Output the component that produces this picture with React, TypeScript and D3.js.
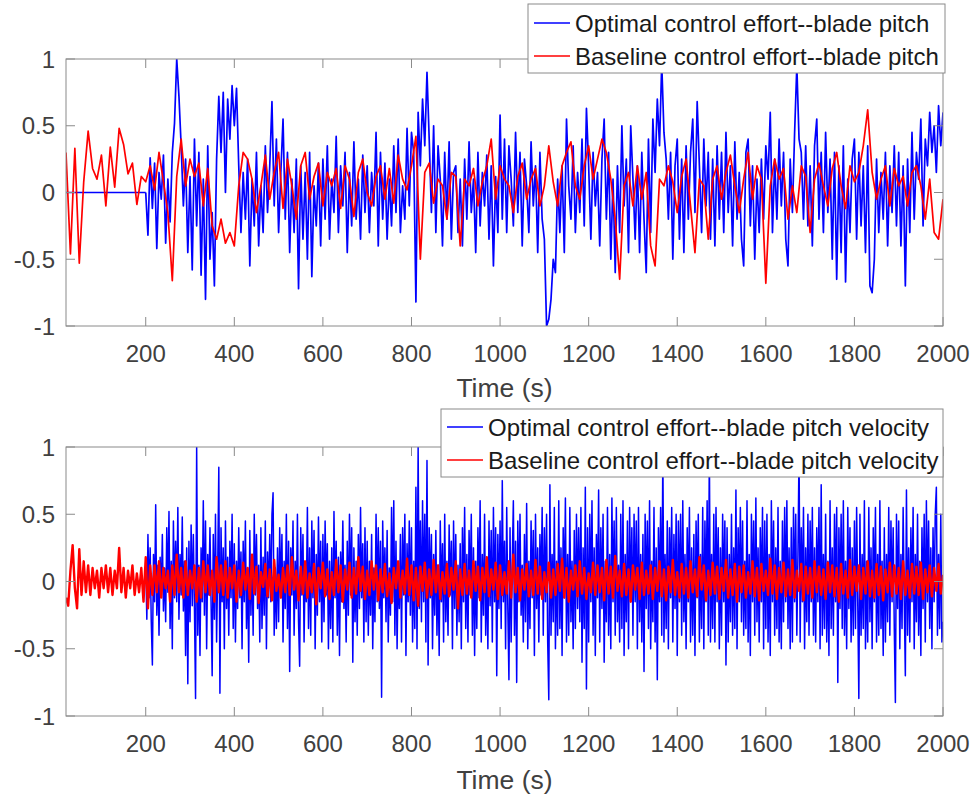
import React from 'react';
import * as d3 from 'd3';

// ---------- axis definitions ----------
const xDomain = [20, 2000];
const xTicks = [200, 400, 600, 800, 1000, 1200, 1400, 1600, 1800, 2000];
const yTicks = [-1, -0.5, 0, 0.5, 1];
const yTickLabels = ['-1', '-0.5', '0', '0.5', '1'];
const xLabel = 'Time (s)';

// ---------- top panel: blade pitch ----------
const pitchLegend = ['Optimal control effort--blade pitch', 'Baseline control effort--blade pitch'];

// optimal: zero until 200 s
const pitchOptFlatTimes = [20, 200];
const pitchOptFlatValues = [0, 0];

// optimal, t = 200..2000 every 5 s
const pitchOptStart = 200;
const pitchOptStep = 5;
const pitchOpt = [
  0.00, -0.32, 0.26, -0.12, 0.22, -0.42, 0.15, -0.05, 0.28, -0.38, 0.10, -0.22, 0.30, 0.52, 1.00, 0.72, 0.35, -0.10, 0.25, -0.45,
  0.12, -0.58, 0.40, -0.25, 0.30, -0.62, 0.10, -0.80, 0.35, -0.50, -0.15, -0.70, 0.25, 0.72, 0.30, 0.75, 0.00, 0.70, 0.40, 0.80,
  0.50, 0.78, 0.20, -0.30, 0.15, -0.20, 0.25, -0.55, 0.10, -0.25, 0.30, -0.40, 0.05, -0.30, 0.35, -0.15, 0.20, 0.68, -0.10, 0.40,
  -0.30, 0.15, 0.55, -0.20, 0.30, -0.45, 0.10, -0.30, 0.25, -0.72, 0.20, -0.35, 0.15, -0.50, 0.30, -0.63, 0.05, -0.25, 0.22, -0.40,
  0.25, -0.20, 0.35, -0.35, 0.10, -0.15, 0.42, -0.30, 0.20, -0.10, 0.30, -0.45, 0.15, -0.25, 0.38, -0.20, 0.10, -0.35, 0.28, -0.15,
  0.20, -0.30, 0.15, -0.10, 0.45, -0.40, 0.30, -0.20, 0.22, -0.35, 0.10, -0.25, 0.35, -0.15, 0.40, -0.30, 0.05, -0.20, 0.48, -0.10,
  0.45, 0.30, -0.82, 0.60, 0.20, 0.70, 0.35, 0.90, 0.40, -0.15, 0.50, -0.30, 0.35, 0.10, -0.40, 0.30, -0.20, 0.38, -0.35, 0.15,
  0.20, -0.30, 0.10, -0.40, 0.25, -0.20, 0.38, -0.15, 0.10, -0.45, 0.30, -0.25, 0.15, -0.10, 0.28, -0.35, 0.20, -0.55, 0.12, -0.30,
  0.58, -0.20, 0.40, -0.30, 0.35, 0.10, -0.25, 0.45, -0.15, 0.30, -0.40, 0.25, 0.05, -0.30, 0.38, -0.10, 0.20, -0.45, 0.30, -0.20,
  -0.35, -1.00, -0.95, -0.80, -0.50, -0.60, 0.10, -0.30, 0.20, -0.45, 0.55, 0.05, -0.20, 0.35, -0.30, 0.15, -0.15, 0.40, -0.25, 0.63,
  0.20, -0.35, 0.30, -0.10, 0.15, -0.40, 0.25, 0.55, -0.20, 0.30, -0.50, 0.10, -0.60, 0.20, -0.30, 0.50, -0.10, 0.25, -0.45, 0.50,
  0.10, -0.35, 0.20, -0.45, 0.30, -0.20, -0.60, 0.40, -0.30, 0.55, 0.15, 0.70, 0.35, 0.97, 0.45, 0.25, -0.20, 0.30, -0.50, 0.20,
  0.40, -0.35, 0.25, -0.45, 0.35, -0.20, 0.30, 0.55, -0.15, 0.68, 0.20, -0.30, 0.40, -0.10, 0.30, -0.35, 0.25, -0.40, 0.35, -0.20,
  0.30, -0.30, 0.45, -0.15, 0.20, -0.40, 0.38, -0.20, 0.15, -0.35, -0.55, 0.30, 0.40, -0.25, 0.20, -0.50, 0.10, -0.30, 0.25, -0.20,
  0.35, 0.10, 0.60, -0.30, 0.25, -0.20, 0.40, -0.10, 0.30, -0.35, -0.55, 0.25, -0.15, 0.45, 0.95, 0.40, 0.30, -0.20, 0.35, -0.25,
  0.20, -0.40, 0.35, 0.55, -0.20, 0.30, -0.30, 0.45, -0.15, 0.25, -0.50, 0.30, -0.65, 0.20, -0.45, 0.35, -0.67, 0.10, -0.30, 0.25,
  0.40, -0.35, 0.30, -0.25, 0.20, -0.45, 0.35, -0.70, -0.75, -0.50, 0.25, -0.30, 0.15, -0.20, 0.30, -0.40, 0.20, -0.15, 0.35, -0.25,
  0.30, -0.40, 0.20, -0.70, 0.25, -0.30, 0.45, -0.20, 0.30, 0.10, 0.55, -0.25, 0.40, 0.20, 0.60, 0.30, 0.50, 0.15, 0.65, 0.35,
  0.60,
];

// baseline, t = 20..2000 every 10 s
const pitchBaseStart = 20;
const pitchBaseStep = 10;
const pitchBase = [
  0.30, -0.46, 0.33, -0.53, 0.08, 0.46, 0.18, 0.10, 0.28, -0.10,
  0.34, 0.04, 0.48, 0.36, 0.14, 0.22, -0.09, 0.12, 0.08, 0.20,
  0.02, 0.30, 0.08, -0.15, -0.66, 0.12, 0.40, 0.05, 0.25, 0.12,
  0.22, -0.10, 0.18, -0.25, -0.35, -0.20, -0.38, -0.30, -0.40, 0.05,
  0.30, 0.25, 0.10, -0.15, 0.05, 0.28, -0.05, 0.15, 0.30, -0.12,
  0.25, 0.05, -0.20, 0.20, 0.30, -0.05, 0.12, 0.22, -0.10, 0.15,
  0.05, 0.18, -0.12, 0.20, 0.10, -0.18, 0.15, 0.25, 0.00, -0.10,
  0.12, 0.20, -0.05, 0.18, -0.08, 0.28, 0.10, 0.02, 0.20, 0.42,
  -0.50, 0.15, 0.22, -0.08, 0.10, 0.05, -0.20, 0.15, 0.12, -0.40,
  0.10, 0.05, 0.18, -0.10, 0.08, 0.20, 0.40, -0.05, 0.20, 0.10,
  0.05, -0.15, 0.12, 0.22, -0.05, 0.10, 0.18, -0.10, 0.05, 0.35,
  0.08, -0.10, 0.20, 0.30, 0.38, 0.05, -0.05, 0.20, 0.35, 0.10,
  0.25, 0.40, 0.30, 0.10, -0.20, -0.65, 0.05, 0.15, -0.10, 0.20,
  -0.05, 0.15, -0.40, -0.55, 0.10, 0.05, 0.20, 0.08, -0.15, 0.12,
  0.25, -0.10, -0.45, 0.10, 0.05, -0.35, 0.10, 0.20, -0.05, 0.15,
  0.28, 0.05, -0.15, 0.10, 0.30, -0.05, 0.20, 0.10, -0.68, 0.05,
  0.25, 0.10, 0.18, -0.20, 0.05, -0.15, 0.20, 0.12, -0.30, 0.10,
  0.22, 0.05, -0.10, 0.18, 0.30, 0.05, -0.12, 0.20, 0.08, 0.15,
  0.35, 0.62, 0.15, -0.05, 0.10, 0.20, -0.10, 0.18, 0.05, 0.12,
  -0.10, 0.15, 0.20, 0.05, -0.20, 0.10, -0.30, -0.35, -0.05,
];

// ---------- bottom panel: blade pitch velocity ----------
const velLegend = ['Optimal control effort--blade pitch velocity', 'Baseline control effort--blade pitch velocity'];

// optimal, t = 200..2000 every 2.5 s
const velOptStart = 200;
const velOptStep = 2.5;
const velOpt = [
  0.15, -0.28, 0.35, -0.12, 0.25, -0.30, -0.62, 0.20, -0.15, 0.57,
  -0.25, 0.12, -0.40, 0.18, -0.10, 0.35, -0.22, 0.10, -0.30, 0.40,
  -0.08, 0.52, -0.35, 0.15, -0.50, 0.45, -0.12, 0.30, -0.15, 0.55,
  -0.28, 0.20, -0.10, 0.48, -0.22, 0.15, -0.55, 0.25, -0.76, 0.30,
  -0.30, 0.42, -0.18, 0.35, -0.20, -0.87, 1.00, -0.40, 0.12, -0.55,
  0.25, -0.15, 0.60, -0.25, 0.45, -0.50, 0.20, -0.10, 0.40, -0.15,
  -0.70, 0.35, -0.28, 0.50, -0.45, 0.10, 0.85, -0.83, 0.40, -0.15,
  0.25, -0.50, 0.45, -0.20, 0.18, -0.40, 0.30, -0.12, 0.50, -0.35,
  0.28, -0.45, 0.15, -0.20, 0.40, -0.12, 0.22, -0.50, 0.30, -0.15,
  0.45, -0.35, 0.10, -0.60, 0.38, -0.25, 0.20, -0.40, 0.50, -0.10,
  0.35, -0.20, 0.12, -0.45, 0.40, -0.35, 0.18, -0.25, 0.45, -0.50,
  0.22, -0.12, 0.35, -0.15, 0.50, 0.66, -0.40, 0.10, -0.35, 0.25,
  -0.30, 0.40, -0.12, 0.35, -0.45, 0.15, -0.20, 0.50, -0.35, 0.30,
  -0.67, 0.25, -0.10, 0.45, -0.40, 0.15, -0.20, 0.50, -0.30, -0.63,
  0.40, -0.10, 0.35, -0.45, 0.12, -0.15, 0.55, -0.35, 0.25, -0.40,
  0.45, -0.12, 0.38, -0.50, 0.20, -0.25, 0.48, -0.15, 0.30, -0.45,
  0.35, -0.30, 0.45, -0.10, 0.28, -0.50, 0.15, -0.35, 0.25, -0.45,
  0.52, -0.12, 0.30, -0.40, 0.18, -0.55, 0.22, -0.15, 0.45, -0.20,
  0.12, -0.45, 0.30, -0.25, 0.50, -0.10, 0.40, -0.60, 0.25, -0.30,
  0.15, -0.40, 0.35, -0.20, 0.55, -0.12, 0.28, -0.45, 0.40, -0.30,
  0.30, -0.40, 0.15, -0.25, 0.35, -0.50, 0.10, -0.30, 0.50, -0.15,
  0.40, -0.20, 0.30, -0.86, 0.45, -0.12, 0.25, -0.30, 0.38, -0.45,
  0.10, -0.25, 0.55, -0.15, 0.60, -0.40, 0.30, -0.50, 0.12, -0.20,
  0.35, -0.45, 0.40, -0.10, 0.50, -0.55, 0.28, -0.15, 0.45, -0.25,
  0.40, -0.45, 0.15, -0.35, 0.70, -0.50, 1.00, -0.20, 0.45, -0.30,
  0.60, -0.15, 0.50, -0.45, 0.90, -0.62, 0.40, -0.12, 0.35, -0.50,
  0.20, -0.25, 0.38, -0.40, 0.12, -0.55, 0.45, -0.15, 0.28, -0.45,
  0.50, -0.30, 0.15, -0.40, 0.42, -0.10, 0.30, -0.50, 0.45, -0.20,
  0.35, -0.40, 0.12, -0.30, 0.28, -0.50, 0.40, -0.15, 0.55, -0.35,
  0.20, -0.45, 0.38, -0.10, 0.50, -0.40, 0.25, -0.55, 0.15, -0.35,
  0.40, -0.12, 0.60, -0.45, 0.20, -0.25, 0.50, -0.40, 0.10, -0.50,
  0.45, -0.18, 0.38, -0.45, 0.55, -0.15, 0.40, -0.70, 0.35, -0.20,
  0.45, -0.35, 0.75, -0.15, 0.30, -0.50, 0.55, -0.20, -0.73, 0.40,
  -0.45, 0.15, 0.60, -0.40, 0.30, -0.75, 0.45, -0.15, 0.50, -0.25,
  0.12, -0.45, 0.35, -0.30, 0.58, -0.50, 0.15, -0.35, 0.45, -0.12,
  0.38, -0.55, 0.50, -0.20, 0.25, -0.45, 0.35, -0.10, 0.55, -0.40,
  0.40, -0.15, 0.50, -0.45, -0.88, 0.72, -0.40, 0.20, -0.30, 0.55,
  -0.50, 0.15, -0.40, 0.60, -0.35, 0.25, -0.55, 0.40, -0.12, 0.62,
  -0.45, 0.20, -0.40, 0.55, -0.30, 0.15, -0.50, 0.38, -0.35, 0.50,
  -0.20, 0.40, -0.30, 0.55, -0.60, 0.25, -0.35, 0.70, -0.80, 0.40,
  -0.45, 0.50, -0.15, 0.60, -0.40, 0.25, -0.55, 0.35, -0.12, 0.68,
  -0.45, 0.40, -0.20, 0.50, -0.60, 0.15, -0.30, 0.55, -0.40, 0.20,
  -0.50, 0.62, -0.15, 0.45, -0.40, 0.55, -0.30, 0.12, -0.45, 0.50,
  -0.35, 0.60, -0.55, 0.20, -0.30, 0.45, -0.50, 0.55, -0.15, 0.40,
  -0.40, 0.50, -0.15, 0.45, -0.50, 0.55, -0.30, 0.20, -0.45, 0.35,
  -0.67, 0.50, -0.20, 0.45, -0.35, 0.60, -0.50, 0.15, -0.30, 0.55,
  -0.45, 0.25, -0.73, 0.40, -0.15, 0.55, -0.40, 0.98, -0.45, 0.20,
  -0.35, 0.45, -0.50, 0.40, -0.12, 0.55, -0.45, 0.35, -0.20, 0.50,
  -0.55, 0.45, -0.15, 0.50, -0.40, 0.60, -0.30, 0.20, -0.50, 0.40,
  -0.15, 0.55, -0.45, 0.25, -0.40, 0.35, -0.55, 0.45, -0.12, 0.50,
  -0.45, 0.20, -0.35, 0.55, -0.50, 0.45, -0.15, 0.60, -0.40, 0.97,
  -0.45, 0.20, -0.35, 0.50, -0.45, 0.55, -0.15, 0.40, -0.50, 0.25,
  -0.40, 0.50, -0.15, 0.45, -0.62, 0.40, -0.45, 0.20, -0.30, 0.50,
  -0.40, 0.25, -0.35, 0.68, -0.50, 0.40, -0.15, 0.55, -0.30, 0.45,
  -0.40, 0.15, -0.35, 0.60, -0.45, 0.20, -0.55, 0.50, -0.15, 0.45,
  -0.40, 0.62, -0.30, 0.25, -0.45, 0.40, -0.15, 0.55, -0.50, 0.45,
  -0.35, 0.50, -0.45, 0.20, -0.55, 0.60, -0.15, 0.45, -0.40, 0.25,
  -0.35, 0.55, -0.45, 0.15, -0.50, 0.45, -0.30, 0.55, -0.15, 0.60,
  -0.35, 0.25, -0.50, 0.40, -0.45, 0.55, -0.15, 0.50, -0.40, 0.20,
  0.98, -0.45, 0.40, -0.15, 0.55, -0.50, 0.25, -0.30, 0.50, -0.40,
  0.45, -0.15, 0.55, -0.40, 0.25, -0.45, 0.40, -0.15, 0.55, -0.50,
  0.72, -0.40, 0.20, -0.35, 0.50, -0.45, 0.15, -0.55, 0.60, -0.35,
  0.25, -0.40, 0.50, -0.15, 0.55, -0.75, 0.40, -0.20, 0.50, -0.35,
  0.60, -0.40, 0.15, -0.50, 0.55, -0.20, 0.40, -0.45, 0.25, -0.40,
  0.45, -0.35, 0.55, -0.15, -0.87, 0.50, -0.40, 0.20, -0.35, 0.60,
  -0.50, 0.15, -0.45, 0.55, -0.30, 0.25, -0.50, 0.40, -0.15, 0.55,
  -0.45, 0.20, -0.40, 0.60, -0.35, 0.15, -0.55, 0.40, -0.45, 0.20,
  -0.30, 0.55, -0.40, 0.45, -0.15, 0.40, -0.35, -0.90, 0.50, -0.20,
  0.45, -0.50, 0.20, -0.35, 0.55, -0.15, -0.70, 0.68, -0.40, 0.25,
  -0.45, 0.40, -0.15, 0.55, -0.50, 0.20, -0.30, 0.50, -0.40, 0.15,
  -0.55, 0.40, -0.20, 0.50, -0.45, 0.60, -0.15, 0.45, -0.35, 0.25,
  -0.50, 0.40, -0.15, 0.50, 0.70, -0.40, 0.20, -0.35, 0.50, -0.45,
  -0.30,
];

// baseline, t = 20..2000 every 5 s
const velBaseStart = 20;
const velBaseStep = 5;
const velBase = [
  -0.12, -0.18, 0.08, 0.27, -0.05, -0.20, 0.24, -0.10, 0.15, -0.08, 0.12, -0.10, 0.10, -0.05, 0.08, -0.12, 0.10, -0.05, 0.12, -0.08,
  0.10, -0.10, 0.08, -0.05, 0.25, -0.08, 0.10, -0.12, 0.08, -0.05, 0.12, -0.10, 0.06, -0.08, 0.10, -0.15, 0.18, -0.20, 0.12, -0.10,
  0.12, -0.08, 0.15, -0.12, 0.10, -0.05, 0.08, -0.15, 0.12, -0.10, 0.20, -0.08, 0.10, -0.12, 0.15, -0.10, 0.08, -0.05, 0.12, -0.15,
  0.10, -0.12, 0.15, -0.08, 0.12, -0.10, 0.08, -0.15, 0.18, -0.08, 0.12, -0.10, 0.15, -0.12, 0.10, -0.05, 0.12, -0.15, 0.08, -0.10,
  0.14, -0.06, 0.10, -0.13, 0.20, -0.09, 0.11, -0.16, 0.07, -0.04, 0.13, -0.11, 0.09, -0.14, 0.16, -0.07, 0.05, -0.12, 0.10, -0.08,
  0.12, -0.10, 0.18, -0.06, 0.08, -0.14, 0.11, -0.09, 0.15, -0.12, 0.06, -0.08, 0.13, -0.17, 0.10, -0.05, 0.14, -0.11, 0.09, -0.13,
  0.07, -0.10, 0.16, -0.08, 0.12, -0.15, 0.09, -0.06, 0.14, -0.12, 0.10, -0.09, 0.18, -0.07, 0.11, -0.13, 0.08, -0.10, 0.15, -0.06,
  0.12, -0.14, 0.09, -0.08, 0.13, -0.11, 0.06, -0.16, 0.10, -0.05, 0.15, -0.12, 0.08, -0.09, 0.17, -0.10, 0.12, -0.14, 0.10, -0.18,
  0.11, -0.07, 0.14, -0.12, 0.09, -0.10, 0.16, -0.08, 0.12, -0.13, 0.07, -0.09, 0.13, -0.11, 0.10, -0.06, 0.15, -0.20, 0.09, -0.10,
  0.13, -0.09, 0.08, -0.12, 0.15, -0.07, 0.11, -0.14, 0.10, -0.08, 0.18, -0.11, 0.09, -0.06, 0.14, -0.13, 0.12, -0.10, 0.07, -0.09,
  0.15, -0.12, 0.20, -0.08, 0.10, -0.14, 0.09, -0.06, 0.13, -0.11, 0.08, -0.10, 0.16, -0.09, 0.11, -0.13, 0.07, -0.08, 0.14, -0.12,
  0.09, -0.10, 0.13, -0.07, 0.17, -0.12, 0.10, -0.15, 0.08, -0.06, 0.12, -0.11, 0.15, -0.09, 0.10, -0.13, 0.06, -0.08, 0.14, -0.10,
  0.12, -0.08, 0.10, -0.14, 0.16, -0.09, 0.11, -0.12, 0.19, -0.07, 0.08, -0.11, 0.13, -0.10, 0.09, -0.15, 0.12, -0.06, 0.10, -0.13,
  0.14, -0.10, 0.08, -0.09, 0.12, -0.13, 0.10, -0.07, 0.15, -0.11, 0.09, -0.14, 0.11, -0.08, 0.16, -0.10, 0.07, -0.12, 0.13, -0.09,
  0.10, -0.12, 0.15, -0.08, 0.09, -0.11, 0.18, -0.06, 0.12, -0.14, 0.08, -0.10, 0.14, -0.09, 0.11, -0.13, 0.10, -0.07, 0.16, -0.12,
  0.09, -0.10, 0.13, -0.15, 0.11, -0.08, 0.12, -0.12, 0.07, -0.09, 0.15, -0.11, 0.10, -0.14, 0.13, -0.07, 0.08, -0.10, 0.17, -0.09,
  0.12, -0.13, 0.10, -0.08, 0.14, -0.11, 0.09, -0.10, 0.16, -0.12, 0.08, -0.07, 0.13, -0.14, 0.11, -0.09, 0.10, -0.12, 0.15, -0.08,
  0.11, -0.10, 0.09, -0.13, 0.14, -0.08, 0.12, -0.11, 0.10, -0.15, 0.13, -0.09, 0.08, -0.12, 0.16, -0.10, 0.11, -0.07, 0.12, -0.13,
  0.10, -0.09, 0.15, -0.11, 0.08, -0.12, 0.13, -0.10, 0.11, -0.14, 0.09, -0.08, 0.14, -0.11, 0.12, -0.09, 0.10, -0.13, 0.15, -0.10,
  0.08, -0.12, 0.13, -0.09, 0.11, -0.10, 0.14, -0.13, 0.09, -0.08, 0.12, -0.11, 0.10, -0.07, 0.13, -0.09, 0.05,
];

// ---------- helpers ----------
type Pt = [number, number];
const toPts = (start: number, step: number, vals: number[]): Pt[] => vals.map((v, i) => [start + i * step, v]);
const zip = (ts: number[], vs: number[]): Pt[] => ts.map((t, i) => [t, vs[i]]);

const BLUE = '#0000ff';
const RED = '#ff0000';
const AXIS = '#8a8a8a';
const TEXT = '#404040';
const FONT = '"Liberation Sans", Arial, Helvetica, sans-serif';

const PLOT_L = 66;
const PLOT_R = 943;

interface Series { pts: Pt[][]; color: string; width: number; }
interface LegendCfg { x: number; y: number; w: number; h: number; rows: number[]; lineX0: number; lineX1: number; textX: number; labels: string[]; colors: string[]; }

function Panel({ id, top, bottom, tickBaseline, labelBaseline, series, legend }: {
  id: string; top: number; bottom: number; tickBaseline: number; labelBaseline: number; series: Series[]; legend: LegendCfg;
}) {
  const x = d3.scaleLinear().domain(xDomain).range([PLOT_L, PLOT_R]);
  const y = d3.scaleLinear().domain([-1, 1]).range([bottom, top]);
  const line = d3.line<Pt>().x(d => x(d[0])).y(d => y(d[1]));
  const tl = 9;
  return (
    <g>
      <defs>
        <clipPath id={id}>
          <rect x={PLOT_L} y={top} width={PLOT_R - PLOT_L} height={bottom - top} />
        </clipPath>
      </defs>
      <rect x={PLOT_L} y={top} width={PLOT_R - PLOT_L} height={bottom - top} fill="#fff" />
      <g clipPath={`url(#${id})`}>
        {series.map((s, si) => s.pts.map((p, pi) => (
          <path key={`${si}-${pi}`} d={line(p) || ''} fill="none" stroke={s.color} strokeWidth={s.width} strokeLinejoin="round" />
        )))}
      </g>
      <rect x={PLOT_L} y={top} width={PLOT_R - PLOT_L} height={bottom - top} fill="none" stroke={AXIS} strokeWidth={1} />
      {xTicks.map(t => (
        <g key={`xt${t}`}>
          <line x1={x(t)} x2={x(t)} y1={bottom} y2={bottom - tl} stroke={AXIS} />
          <line x1={x(t)} x2={x(t)} y1={top} y2={top + tl} stroke={AXIS} />
          <text x={x(t)} y={tickBaseline} textAnchor="middle" fontSize={24} fontFamily={FONT} fill={TEXT}>{t}</text>
        </g>
      ))}
      {yTicks.map((t, i) => (
        <g key={`yt${t}`}>
          <line x1={PLOT_L} x2={PLOT_L + tl} y1={y(t)} y2={y(t)} stroke={AXIS} />
          <line x1={PLOT_R} x2={PLOT_R - tl} y1={y(t)} y2={y(t)} stroke={AXIS} />
          <text x={PLOT_L - 11} y={y(t)} dy="0.36em" textAnchor="end" fontSize={24} fontFamily={FONT} fill={TEXT}>{yTickLabels[i]}</text>
        </g>
      ))}
      <text x={(PLOT_L + PLOT_R) / 2} y={labelBaseline} textAnchor="middle" fontSize={26.5} fontFamily={FONT} fill={TEXT}>{xLabel}</text>
      <g>
        <rect x={legend.x} y={legend.y} width={legend.w} height={legend.h} fill="#fff" stroke={AXIS} strokeWidth={1} />
        {legend.labels.map((lab, i) => (
          <g key={lab}>
            <line x1={legend.lineX0} x2={legend.lineX1} y1={legend.rows[i]} y2={legend.rows[i]} stroke={legend.colors[i]} strokeWidth={1.5} />
            <text x={legend.textX} y={legend.rows[i]} dy="0.36em" fontSize={24} fontFamily={FONT} fill="#1a1a1a">{lab}</text>
          </g>
        ))}
      </g>
    </g>
  );
}

export default function App() {
  const topSeries: Series[] = [
    { pts: [zip(pitchOptFlatTimes, pitchOptFlatValues), toPts(pitchOptStart, pitchOptStep, pitchOpt)], color: BLUE, width: 1.7 },
    { pts: [toPts(pitchBaseStart, pitchBaseStep, pitchBase)], color: RED, width: 1.7 },
  ];
  const botSeries: Series[] = [
    { pts: [toPts(velOptStart, velOptStep, velOpt)], color: BLUE, width: 1.5 },
    { pts: [toPts(velBaseStart, velBaseStep, velBase)], color: RED, width: 2.4 },
  ];
  return (
    <svg width={977} height={801} style={{ position: 'absolute', left: 0, top: 0, background: '#fff' }}>
      <rect x={0} y={0} width={977} height={801} fill="#fff" />
      <Panel id="clipTop" top={59} bottom={326} tickBaseline={362} labelBaseline={397} series={topSeries}
        legend={{ x: 528, y: 4, w: 417, h: 69, rows: [23, 56], lineX0: 534, lineX1: 570, textX: 575, labels: pitchLegend, colors: [BLUE, RED] }} />
      <Panel id="clipBot" top={447} bottom={716} tickBaseline={752} labelBaseline={789} series={botSeries}
        legend={{ x: 441, y: 409, w: 502, h: 68, rows: [427, 460], lineX0: 447, lineX1: 483, textX: 488, labels: velLegend, colors: [BLUE, RED] }} />
    </svg>
  );
}
